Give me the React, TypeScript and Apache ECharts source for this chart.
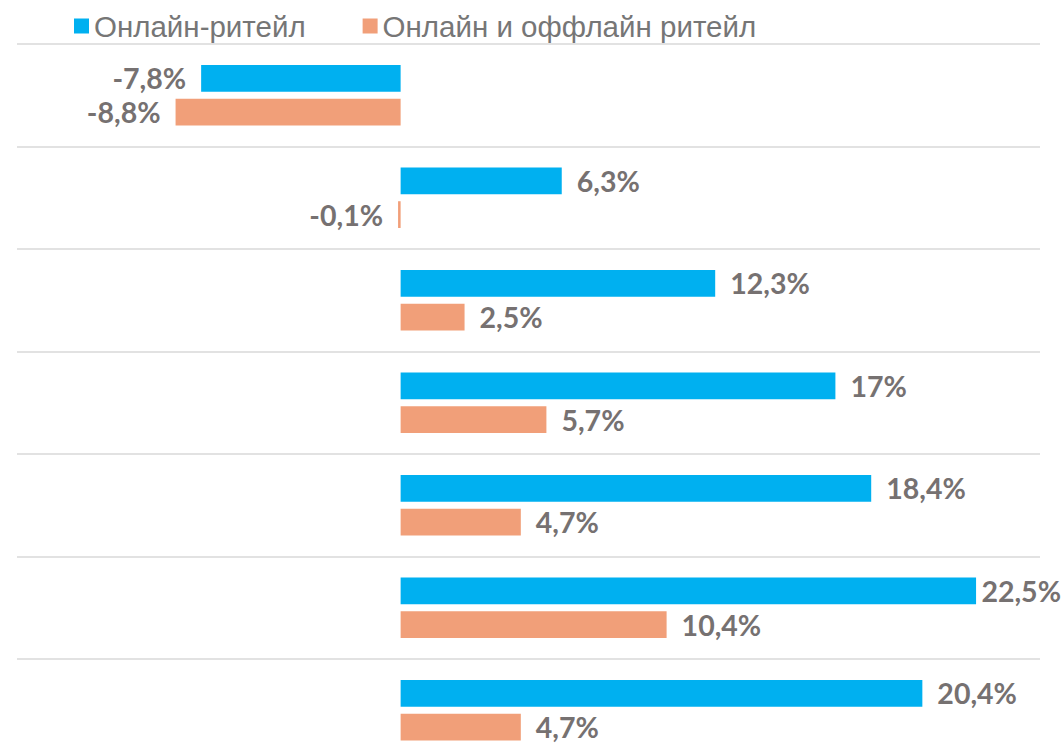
import React, { useEffect, useRef } from "react";
import * as echarts from "echarts";

const categories = ["1", "2", "3", "4", "5", "6", "7"];
const seriesNames = ["Онлайн-ритейл", "Онлайн и оффлайн ритейл"];
const onlineValues = [-7.8, 6.3, 12.3, 17, 18.4, 22.5, 20.4];
const omniValues = [-8.8, -0.1, 2.5, 5.7, 4.7, 10.4, 4.7];
const colors = ["#00B0F0", "#F19F79"];

const fmt = (v: number) => String(v).replace(".", ",") + "%";

export default function App() {
  const ref = useRef<HTMLDivElement>(null);
  useEffect(() => {
    if (!ref.current) return;
    const chart = echarts.init(ref.current, undefined, { renderer: "svg" });
    const mkSeries = (name: string, data: number[], color: string) => ({
      name,
      type: "bar",
      data,
      barGap: "26%",
      barCategoryGap: "41%",
      itemStyle: { color },
      label: {
        show: true,
        position: "outside",
        distance: 15,
        formatter: (p: any) => fmt(p.value),
        color: "#767171",
        fontFamily: "Lato",
        fontWeight: "bold",
        fontSize: 28.5,
      },
      labelLayout: (p: any) => {
        const r = p.labelRect;
        const over = r.x + r.width - 1061;
        return over > 0 ? { dx: -over } : {};
      },
    });
    chart.setOption({
      animation: false,
      legend: {
        data: seriesNames,
        left: 74,
        top: 11,
        padding: 0,
        itemWidth: 15,
        itemHeight: 15,
        itemGap: 57,
        icon: "rect",
        textStyle: {
          fontFamily: "Liberation Sans",
          fontSize: 29.5,
          color: "#767676",
        },
      },
      grid: { left: 17, top: 44, width: 1023, height: 717.5, containLabel: false },
      xAxis: {
        type: "value",
        min: -15,
        max: 25,
        axisLabel: { show: false },
        axisLine: { show: false },
        axisTick: { show: false },
        splitLine: { show: false },
      },
      yAxis: {
        type: "category",
        data: categories,
        inverse: true,
        axisLabel: { show: false },
        axisLine: { show: false },
        axisTick: { show: false },
        splitLine: { show: true, lineStyle: { color: "#D9D9D9", width: 1.5 } },
      },
      series: [
        mkSeries(seriesNames[0], onlineValues, colors[0]),
        mkSeries(seriesNames[1], omniValues, colors[1]),
      ],
    });
    return () => chart.dispose();
  }, []);
  return (
    <div
      ref={ref}
      style={{ position: "fixed", left: 0, top: 0, width: 1064, height: 775, background: "#fff" }}
    />
  );
}
